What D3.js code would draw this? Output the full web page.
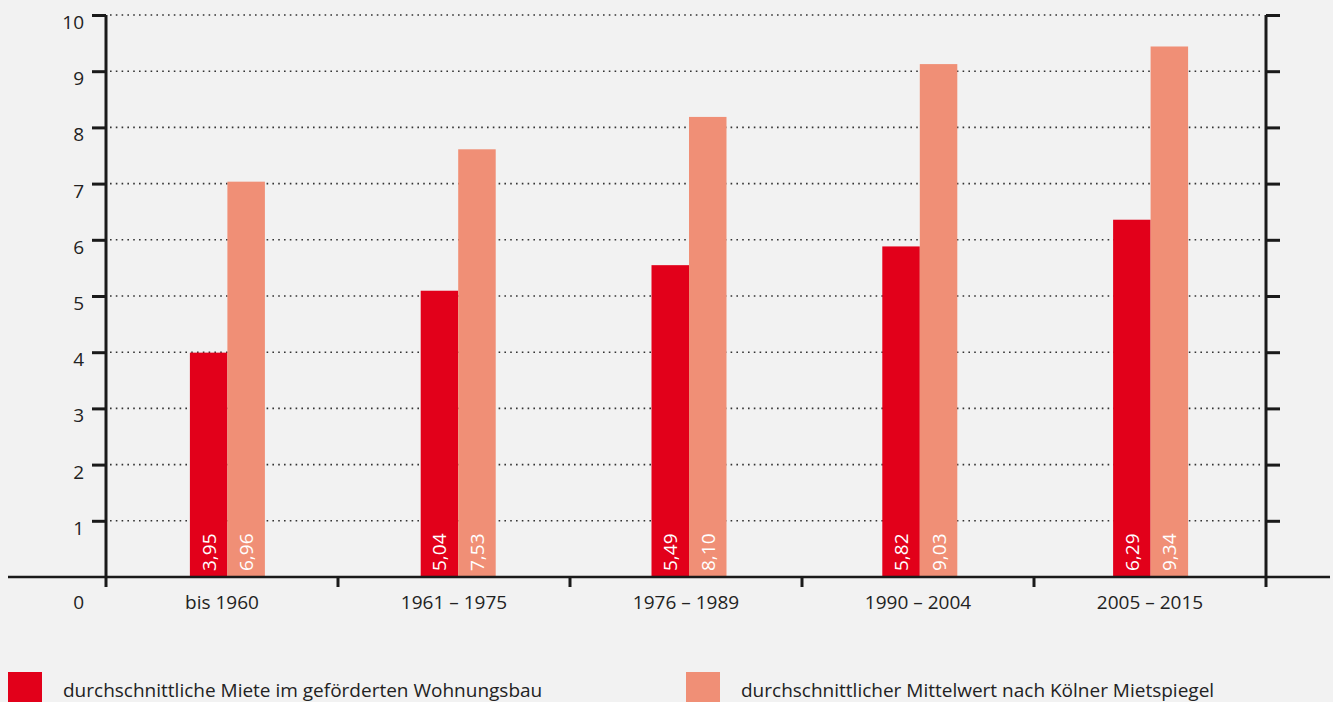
<!DOCTYPE html>
<html>
<head>
<meta charset="utf-8">
<script src="https://cdn.jsdelivr.net/npm/d3@7"></script>
<style>
  body { margin: 0; background: #f2f2f2; }
  text { font-family: "Open Sans", "Noto Sans", sans-serif; fill: #222; }
</style>
</head>
<body>
<div id="chart"></div>
<script>
// Data
var categories = ["bis 1960", "1961 – 1975", "1976 – 1989", "1990 – 2004", "2005 – 2015"]
var gefoerdert = [3.95, 5.04, 5.49, 5.82, 6.29]
var mietspiegel = [6.96, 7.53, 8.10, 9.03, 9.34]
var yTicks = [1, 2, 3, 4, 5, 6, 7, 8, 9, 10]
var seriesNames = ["durchschnittliche Miete im geförderten Wohnungsbau", "durchschnittlicher Mittelwert nach Kölner Mietspiegel"]

var width = 1333
var height = 702
var color = ["#e2001a", "#f08f76"]

// plot edges
var plotLeft = 106, plotRight = 1266, plotTop = 15, plotBottom = 577

var svg = d3.select('#chart')
    .append('svg')
    .attr('width', width)
    .attr('height', height)

svg.append('rect').attr('width', width).attr('height', height).attr('fill', '#f2f2f2')

var xScale = d3.scaleBand()
    .domain(categories)
    .range([plotLeft, plotRight])

// bar groups sit slightly off the category bands in the original
var xBars = d3.scaleBand()
    .domain(categories)
    .range([plotLeft + 6, plotRight])

var yScale = d3.scaleLinear()
    .domain([0, 10])
    .range([plotBottom, plotTop])

// the bars in the original are drawn a touch taller than the grid
var yBars = d3.scaleLinear()
    .domain([0, 10])
    .range([plotBottom, plotBottom - 568])

// dotted grid
svg.append('g')
    .selectAll('line')
    .data(yTicks)
    .join('line')
    .attr('x1', plotLeft + 4)
    .attr('x2', plotRight - 4)
    .attr('y1', d => yScale(d))
    .attr('y2', d => yScale(d))
    .attr('stroke', '#333')
    .attr('stroke-width', 1.6)
    .attr('stroke-dasharray', '1.6,4.2')

// bars
var barW = 37.5
var groups = svg.append('g')
    .selectAll('g')
    .data(categories)
    .join('g')
    .attr('transform', d => `translate(${xBars(d) + xBars.bandwidth() / 2}, 0)`)

groups.selectAll('rect')
    .data((d, i) => [gefoerdert[i], mietspiegel[i]])
    .join('rect')
    .attr('x', (d, j) => j === 0 ? -barW : 0)
    .attr('y', d => yBars(d))
    .attr('width', barW)
    .attr('height', d => plotBottom - yBars(d))
    .attr('fill', (d, j) => color[j])

// value labels inside bars
groups.selectAll('text')
    .data((d, i) => [gefoerdert[i], mietspiegel[i]])
    .join('text')
    .attr('transform', (d, j) => `translate(${(j === 0 ? -barW / 2 : barW / 2) + 7}, ${plotBottom - 6}) rotate(-90)`)
    .attr('text-anchor', 'start')
    .style('fill', '#fff')
    .style('font-size', '19px')
    .text(d => d.toFixed(2).replace('.', ','))

// left axis
var yAxisL = d3.axisLeft(yScale).tickValues(yTicks).tickSize(14).tickFormat('')
svg.append('g')
    .attr('transform', `translate(${plotLeft}, 0)`)
    .call(yAxisL)
    .call(g => g.selectAll('line, path').attr('stroke', '#1a1a1a').attr('stroke-width', 3))
    .call(g => g.select('.domain').attr('d', `M0,${plotTop}V${plotBottom + 10}`))

// right axis
var yAxisR = d3.axisRight(yScale).tickValues(yTicks).tickSize(14).tickFormat('')
svg.append('g')
    .attr('transform', `translate(${plotRight}, 0)`)
    .call(yAxisR)
    .call(g => g.selectAll('line, path').attr('stroke', '#1a1a1a').attr('stroke-width', 3))
    .call(g => g.select('.domain').attr('d', `M0,${plotTop}V${plotBottom + 10}`))

// y tick labels
svg.append('g')
    .selectAll('text')
    .data([0].concat(yTicks))
    .join('text')
    .attr('x', 84)
    .attr('y', d => d === 0 ? 609 : yScale(d) + 14)
    .attr('text-anchor', 'end')
    .style('font-size', '19px')
    .text(d => d)

// baseline and category boundary ticks
svg.append('line')
    .attr('x1', 8).attr('x2', 1330)
    .attr('y1', plotBottom).attr('y2', plotBottom)
    .attr('stroke', '#1a1a1a').attr('stroke-width', 2.5)

svg.append('g')
    .selectAll('line')
    .data(categories.slice(1))
    .join('line')
    .attr('x1', d => xScale(d)).attr('x2', d => xScale(d))
    .attr('y1', plotBottom).attr('y2', plotBottom + 10)
    .attr('stroke', '#1a1a1a').attr('stroke-width', 3)

// category labels
svg.append('g')
    .selectAll('text')
    .data(categories)
    .join('text')
    .attr('x', d => xScale(d) + xScale.bandwidth() / 2)
    .attr('y', 609)
    .attr('text-anchor', 'middle')
    .style('font-size', '19px')
    .text(d => d)

// legend
var legendX = [8, 686]
seriesNames.forEach((s, v) => {
    var row = svg.append('g').attr('transform', `translate(${legendX[v]}, 672)`)
    row.append('rect')
        .attr('width', 34)
        .attr('height', 32)
        .attr('fill', color[v])
    row.append('text')
        .attr('x', 55)
        .attr('y', 25)
        .style('font-size', '19px')
        .text(s)
})
</script>
</body>
</html>
